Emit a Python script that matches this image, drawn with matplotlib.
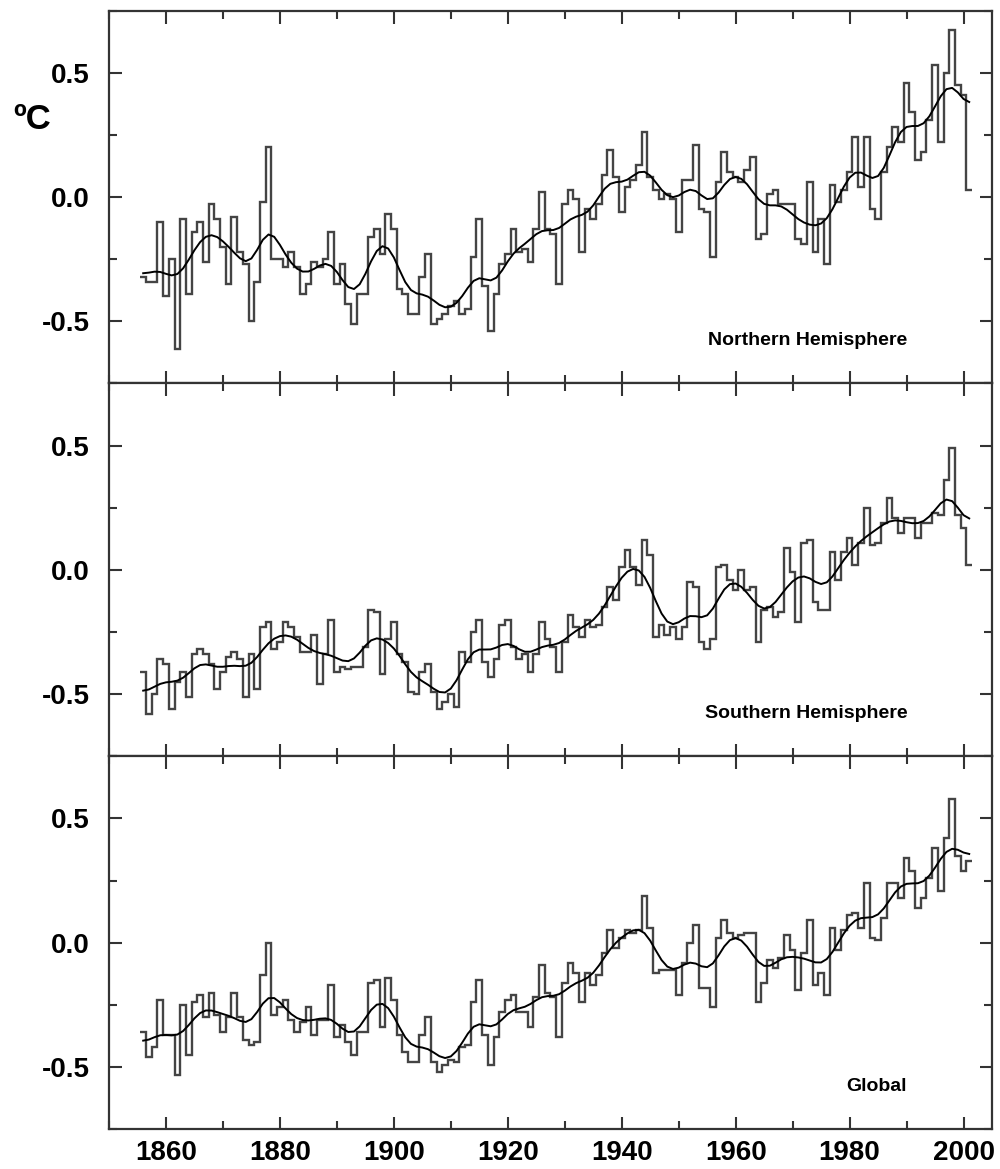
import matplotlib
matplotlib.use("Agg")
import matplotlib.pyplot as plt
import numpy as np
from matplotlib.ticker import MultipleLocator

plt.rcParams["font.family"] = ["Liberation Sans", "DejaVu Sans"]
plt.rcParams["font.weight"] = "bold"

years = np.arange(1856, 2002)

northern = [
    -0.32, -0.34, -0.34, -0.10, -0.40, -0.25, -0.61, -0.09, -0.39, -0.14,
    -0.10, -0.26, -0.03, -0.09, -0.20, -0.35, -0.08, -0.22, -0.27, -0.50,
    -0.34, -0.02, 0.20, -0.25, -0.25, -0.28, -0.22, -0.28, -0.39, -0.35,
    -0.26, -0.28, -0.25, -0.14, -0.35, -0.27, -0.43, -0.51, -0.39, -0.39,
    -0.16, -0.13, -0.23, -0.07, -0.13, -0.37, -0.39, -0.47, -0.47, -0.32,
    -0.23, -0.51, -0.49, -0.47, -0.44, -0.42, -0.47, -0.45, -0.24, -0.09,
    -0.36, -0.54, -0.39, -0.27, -0.23, -0.13, -0.22, -0.21, -0.26, -0.13,
    0.02,
    -0.13, -0.15, -0.35, -0.03, 0.03, -0.01, -0.22, -0.05, -0.09, -0.03,
    0.09, 0.19, 0.08, -0.06, 0.04, 0.07, 0.13, 0.26, 0.08, 0.03,
    -0.01, 0.01, -0.01, -0.14, 0.07, 0.07, 0.21, -0.05, -0.06, -0.24,
    0.06, 0.18, 0.10, 0.08, 0.06, 0.11, 0.16, -0.17, -0.15, 0.01,
    0.03, -0.03, -0.03, -0.03, -0.17, -0.19, 0.06, -0.22, -0.09, -0.27,
    0.05, -0.02, 0.03, 0.10, 0.24, 0.04, 0.24, -0.05, -0.09, 0.10,
    0.20, 0.28, 0.22, 0.46, 0.34, 0.15, 0.18, 0.31, 0.53, 0.22,
    0.50, 0.67, 0.45, 0.41, 0.03,
]

southern = [
    -0.41, -0.58, -0.50, -0.36, -0.38, -0.56, -0.45, -0.41, -0.51, -0.34,
    -0.32, -0.34, -0.38, -0.48, -0.41, -0.35, -0.33, -0.36, -0.51, -0.34,
    -0.48, -0.23, -0.21, -0.32, -0.29, -0.21, -0.23, -0.27, -0.33, -0.33,
    -0.26, -0.46, -0.34, -0.20, -0.41, -0.39, -0.40, -0.39, -0.39, -0.31,
    -0.16, -0.17, -0.42, -0.28, -0.21, -0.34, -0.37, -0.49, -0.50, -0.41,
    -0.38, -0.49, -0.56, -0.53, -0.50, -0.55, -0.33, -0.37, -0.25, -0.20,
    -0.37, -0.43, -0.36, -0.22, -0.20, -0.31, -0.36, -0.34, -0.41, -0.34,
    -0.21,
    -0.28, -0.31, -0.41, -0.29, -0.18, -0.23, -0.27, -0.20, -0.23, -0.22,
    -0.15, -0.07, -0.12, 0.01, 0.08, 0.01, -0.06, 0.12, 0.06, -0.27,
    -0.22, -0.26, -0.23, -0.28, -0.23, -0.05, -0.07, -0.29, -0.32, -0.28,
    0.01, 0.02, -0.04, -0.08, 0.00, -0.08, -0.07, -0.29, -0.16, -0.15,
    -0.19, -0.17, 0.09, -0.01, -0.21, 0.11, 0.12, -0.13, -0.16, -0.16,
    0.07, -0.04, 0.07, 0.13, 0.02, 0.11, 0.25, 0.10, 0.11, 0.19,
    0.29, 0.21, 0.15, 0.21, 0.21, 0.13, 0.19, 0.19, 0.23, 0.22,
    0.36, 0.49, 0.22, 0.17, 0.02,
]

global_mean = [
    -0.36, -0.46, -0.42, -0.23, -0.37, -0.37, -0.53, -0.25, -0.45, -0.24,
    -0.21, -0.30, -0.20, -0.29, -0.36, -0.30, -0.20, -0.30, -0.39, -0.41,
    -0.40, -0.13, 0.00, -0.29, -0.26, -0.23, -0.31, -0.36, -0.32, -0.26,
    -0.37, -0.31, -0.31, -0.17, -0.38, -0.33, -0.40, -0.45, -0.36, -0.36,
    -0.16, -0.15, -0.34, -0.14, -0.23, -0.37, -0.44, -0.48, -0.48, -0.37,
    -0.30, -0.48, -0.52, -0.49, -0.47, -0.48, -0.42, -0.41, -0.24, -0.15,
    -0.37, -0.49, -0.38, -0.28, -0.23, -0.21, -0.28, -0.28, -0.34, -0.22,
    -0.09,
    -0.20, -0.22, -0.38, -0.16, -0.08, -0.12, -0.24, -0.12, -0.17, -0.13,
    -0.04, 0.05, -0.02, 0.02, 0.05, 0.04, 0.05, 0.19, 0.06, -0.12,
    -0.11, -0.11, -0.11, -0.21, -0.08, 0.00, 0.07, -0.18, -0.18, -0.26,
    0.02, 0.09, 0.04, 0.02, 0.03, 0.04, 0.04, -0.24, -0.16, -0.07,
    -0.10, -0.06, 0.03, -0.03, -0.19, -0.04, 0.09, -0.17, -0.12, -0.21,
    0.06, -0.03, 0.05, 0.11, 0.12, 0.06, 0.24, 0.02, 0.01, 0.10,
    0.24, 0.24, 0.18, 0.34, 0.29, 0.14, 0.18, 0.26, 0.38, 0.21,
    0.42, 0.58, 0.35, 0.29, 0.33,
]

panel_names = ["Northern Hemisphere", "Southern Hemisphere", "Global"]
panel_data = [northern, southern, global_mean]


# binomial filter for the decadal curves
weights = np.array([1.0])
for _ in range(16):
    weights = np.convolve(weights, [0.5, 0.5])
half = len(weights) // 2


def smooth(values):
    padded = np.pad(np.asarray(values), half, mode="reflect")
    return np.convolve(padded, weights, mode="valid")


fig, axes = plt.subplots(3, 1, figsize=(10, 11.69), dpi=100, sharex=True)
fig.subplots_adjust(left=0.109, right=0.992, top=0.991, bottom=0.034, hspace=0)

edges = np.append(years - 0.5, years[-1] + 0.5)

for ax, name, vals in zip(axes, panel_names, panel_data):
    ax.stairs(vals, edges, baseline=None, color="#444444", lw=1.7)
    ax.plot(years, smooth(vals), color="black", lw=1.4)

    ax.set_xlim(1850, 2005)
    ax.set_ylim(-0.75, 0.75)
    ax.xaxis.set_major_locator(MultipleLocator(20))
    ax.xaxis.set_minor_locator(MultipleLocator(10))
    ax.yaxis.set_major_locator(MultipleLocator(0.5))
    ax.yaxis.set_minor_locator(MultipleLocator(0.25))
    ax.yaxis.set_major_formatter(lambda v, p: f"{v:.1f}".replace("-0.0", "0.0"))
    ax.tick_params(which="both", direction="in", top=True, right=True,
                   width=1.5, color="#333333")
    ax.tick_params(which="major", length=9, labelsize=20)
    ax.tick_params(which="minor", length=6)
    ax.tick_params(axis="y", pad=14)
    ax.tick_params(axis="x", pad=8)
    for spine in ax.spines.values():
        spine.set_linewidth(1.6)
        spine.set_color("#333333")
    ax.text(0.904, 0.115, name, transform=ax.transAxes, ha="right",
            va="center", fontsize=14, fontweight="bold")

fig.text(0.032, 0.8975, "ºC", fontsize=25, fontweight="bold",
         ha="center", va="center")

plt.savefig("out.png")
